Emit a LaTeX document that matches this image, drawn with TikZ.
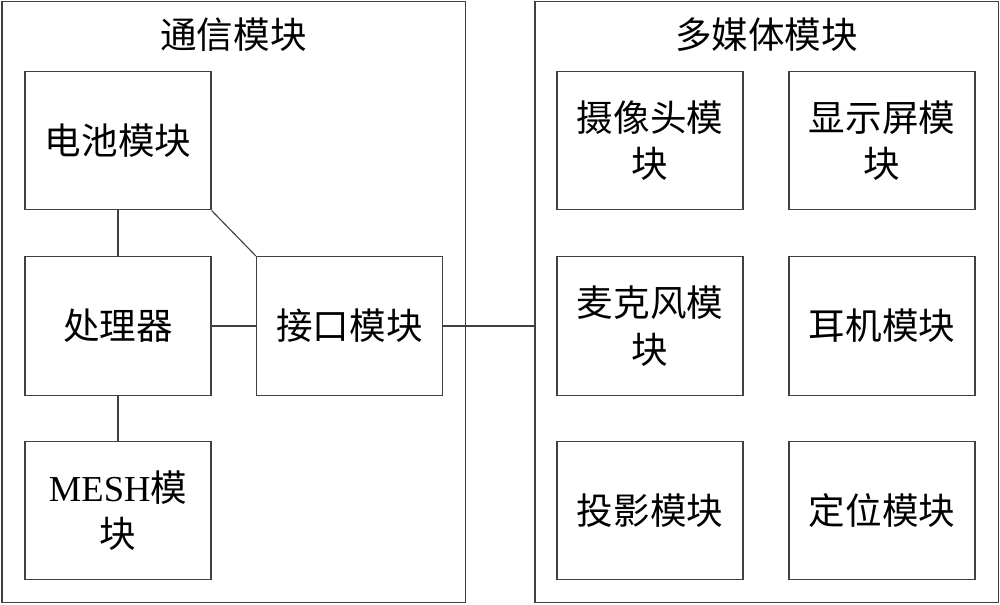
\documentclass[tikz,border=0pt]{standalone}
\usepackage{fontspec}
\setmainfont{Liberation Serif}
\newfontfamily\cjk{Noto Sans CJK SC}
\usetikzlibrary{positioning}
\begin{document}
\begin{tikzpicture}[x=0.025cm,y=-0.025cm,
    every node/.style={font=\fontsize{26}{33}\selectfont\cjk, align=center},
    module/.style={draw=black!75, line width=0.8pt, minimum width=4.65cm, minimum height=3.47cm, inner sep=0pt},
    frame/.style={draw=black!75, line width=0.8pt, minimum width=11.575cm, minimum height=15cm, inner sep=0pt},
    link/.style={draw=black!75, line width=0.8pt}]
\useasboundingbox (0,0) rectangle (1000,605);
% outer frames
\node[frame] (comm) at (233.5,302) {};
\node[frame] (media) at (766.5,302) {};
\node (commtitle) at (233.5,35) {通信模块};
\node (mediatitle) at (766.5,35) {多媒体模块};
% communication side
\node[module] (bat) at (118,140.5) {电池模块};
\node[module] (cpu) at (118,326) {处理器};
\node[module] (mesh) at (118,510.5) {{\rmfamily MESH}模\\块};
\node[module] (intf) at (349.5,326) {接口模块};
% multimedia side
\node[module] (cam) at (650,140.5) {摄像头模\\块};
\node[module] (disp) at (882,140.5) {显示屏模\\块};
\node[module] (mic) at (650,326) {麦克风模\\块};
\node[module] (ear) at (882,326) {耳机模块};
\node[module] (proj) at (650,510.5) {投影模块};
\node[module] (loc) at (882,510.5) {定位模块};
% connections
\draw[link] (bat) -- (cpu);
\draw[link] (cpu) -- (mesh);
\draw[link] (cpu) -- (intf);
\draw[link] (bat.south east) -- (intf.north west);
\draw[link] (intf.east) -- (intf.east -| media.west);
\end{tikzpicture}
\end{document}
